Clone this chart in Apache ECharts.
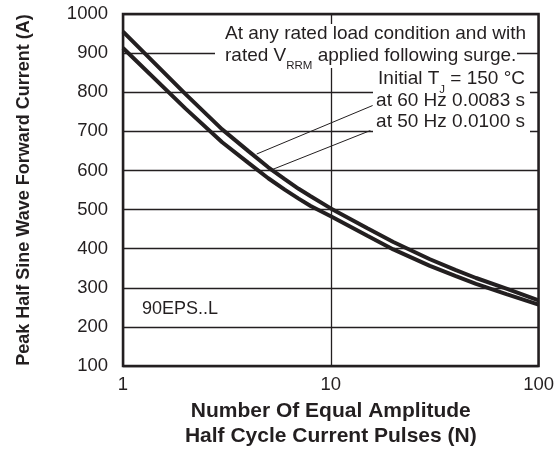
<!DOCTYPE html>
<html>
<head>
<meta charset="utf-8">
<script src="https://cdn.jsdelivr.net/npm/echarts@6/dist/echarts.min.js"></script>
<style>
  html, body { margin: 0; padding: 0; background: #fff; }
  #chart { width: 557px; height: 454px; }
</style>
</head>
<body>
<div id="chart"></div>
<script>
// values
const pulses = [1, 2, 3, 4, 5, 6, 7, 8, 10, 15, 20, 30, 40, 50, 70, 100]
const current60Hz = [955, 795, 705, 650, 608, 578, 553, 534, 503, 452, 417, 373, 345, 325, 298, 268]
const current50Hz = [913, 758, 672, 620, 580, 551, 528, 509, 483, 433, 398, 356, 330, 310, 284, 257]
const yMin = 100
const yMax = 1000
const yStep = 100

// leader lines from the notes to the curves (data coords)
const leader60 = [[15.9, 766], [4.4, 642]]
const leader50 = [[15.5, 702], [5.27, 603]]

const ink = '#231f20'
const font = '"Liberation Sans", Arial, Helvetica, sans-serif'

function pairs(xs, ys) {
  return xs.map((x, i) => [x, ys[i]])
}

const chart = echarts.init(document.getElementById('chart'))

// note text; lines with a subscript get a taller line so the sub sits lower,
// y is the centre of the normal-size text
const txt = (text, x, y, align, size, hasSub) => ({
  type: 'text',
  z: 20,
  x: x,
  y: hasSub ? y + 2.5 : y,
  style: {
    text: text,
    fill: ink,
    font: (size || 19) + 'px ' + font,
    align: align,
    verticalAlign: 'middle',
    rich: {
      n: { fontSize: size || 19, fontFamily: font, fill: ink, lineHeight: 21, verticalAlign: 'top' },
      sub: { fontSize: 11.5, fontFamily: font, fill: ink, lineHeight: 26, verticalAlign: 'bottom' }
    }
  }
})

const whiteBox = (x, y, w, h) => ({
  type: 'rect', z: 15, shape: { x: x, y: y, width: w, height: h }, style: { fill: '#fff' }
})

const option = {
  animation: false,
  backgroundColor: '#fff',
  textStyle: { fontFamily: font, color: ink },
  grid: {
    left: 123,
    right: 18,
    top: 14,
    bottom: 86,
    show: true,
    borderColor: ink,
    borderWidth: 2.5,
    backgroundColor: 'transparent'
  },
  xAxis: {
    type: 'log',
    logBase: 10,
    min: 1,
    max: 100,
    axisLine: { show: false },
    axisTick: { show: false },
    axisLabel: { fontSize: 18.5, color: ink, margin: 9, fontFamily: font },
    splitLine: { show: true, lineStyle: { color: ink, width: 1.3 } },
    name: 'Number Of Equal Amplitude\nHalf Cycle Current Pulses (N)',
    nameLocation: 'middle',
    nameGap: 33,
    nameTextStyle: { fontSize: 21, fontWeight: 'bold', color: ink, lineHeight: 25, fontFamily: font }
  },
  yAxis: {
    type: 'value',
    min: yMin,
    max: yMax,
    interval: yStep,
    axisLine: { show: false },
    axisTick: { show: false },
    axisLabel: {
      fontSize: 18.5,
      color: ink,
      margin: 15,
      fontFamily: font,
      formatter: (v) => String(v)
    },
    splitLine: { show: true, lineStyle: { color: ink, width: 1.3 } },
    name: 'Peak Half Sine Wave Forward Current (A)',
    nameLocation: 'middle',
    nameGap: 90,
    nameTextStyle: { fontSize: 18, fontWeight: 'bold', color: ink, fontFamily: font }
  },
  series: [
    {
      name: '60 Hz',
      type: 'line',
      data: pairs(pulses, current60Hz),
      symbol: 'none',
      z: 5,
      lineStyle: { color: ink, width: 4 },
      markLine: {
        silent: true,
        symbol: 'none',
        label: { show: false },
        lineStyle: { color: ink, width: 1, type: 'solid' },
        data: [
          [{ coord: leader60[0] }, { coord: leader60[1] }],
          [{ coord: leader50[0] }, { coord: leader50[1] }]
        ]
      }
    },
    {
      name: '50 Hz',
      type: 'line',
      data: pairs(pulses, current50Hz),
      symbol: 'none',
      z: 5,
      lineStyle: { color: ink, width: 4 }
    }
  ],
  graphic: [
    whiteBox(215, 24, 317, 22),
    whiteBox(215, 46, 302, 22),
    whiteBox(373, 68, 157, 72),
    txt('{n|At any rated load condition and with}', 225, 35, 'left'),
    txt('{n|rated V}{sub|RRM}{n| applied following surge.}', 225, 56.5, 'left', 19, true),
    txt('{n|Initial T}{sub|J}{n| = 150 °C}', 525, 80, 'right', 19, true),
    txt('{n|at 60 Hz 0.0083 s}', 525, 102, 'right'),
    txt('{n|at 50 Hz 0.0100 s}', 525, 123, 'right'),
    txt('{n|90EPS..L}', 142, 311, 'left', 18)
  ]
}

chart.setOption(option)
</script>
</body>
</html>
